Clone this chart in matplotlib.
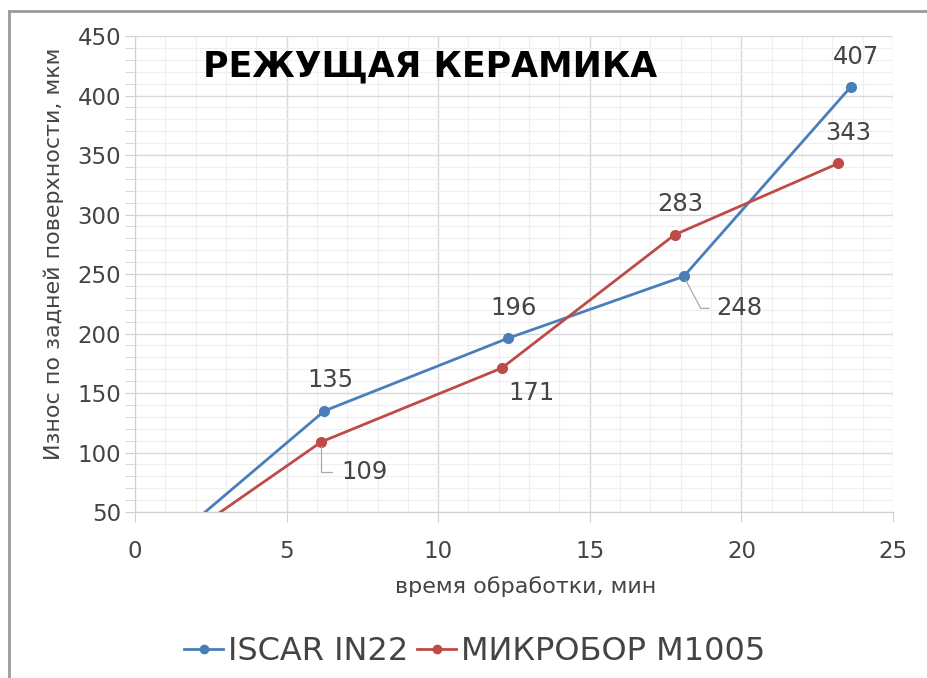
import matplotlib.pyplot as plt
from matplotlib.lines import Line2D
from matplotlib.ticker import MultipleLocator

# данные: время обработки, мин / износ, мкм
iscar_t = [0, 6.25, 12.3, 18.1, 23.6]
iscar_w = [0, 135, 196, 248, 407]
mikro_t = [0, 6.15, 12.1, 17.8, 23.2]
mikro_w = [0, 109, 171, 283, 343]

iscar_name = 'ISCAR IN22'
mikro_name = 'МИКРОБОР M1005'
title = 'РЕЖУЩАЯ КЕРАМИКА'

blue = '#4a7ebb'
red = '#be4b48'
txt = '#444444'

plt.rcParams['font.family'] = ['DejaVu Sans']

fig = plt.figure(figsize=(9.27, 6.78), dpi=100)
ax = fig.add_axes([0.1456, 0.2448, 0.8177, 0.7021])

# рамка вокруг рисунка
fig.add_artist(Line2D([9 / 927, 9 / 927], [0, 1 - 11 / 678], transform=fig.transFigure,
                      color='#9a9a9a', lw=2))
fig.add_artist(Line2D([9 / 927, 1], [1 - 11 / 678, 1 - 11 / 678], transform=fig.transFigure,
                      color='#9a9a9a', lw=2))

ax.plot(iscar_t, iscar_w, color=blue, lw=2, marker='o', ms=7, zorder=3)
ax.plot(mikro_t, mikro_w, color=red, lw=2, marker='o', ms=7, zorder=3)

ax.set_xlim(0, 25)
ax.set_ylim(50, 450)
ax.xaxis.set_major_locator(MultipleLocator(5))
ax.xaxis.set_minor_locator(MultipleLocator(1))
ax.yaxis.set_major_locator(MultipleLocator(50))
ax.yaxis.set_minor_locator(MultipleLocator(10))
ax.grid(which='major', color='#d9d9d9', lw=1)
ax.grid(which='minor', color='#efefef', lw=0.8)
ax.set_axisbelow(True)

for s in ['top', 'right']:
    ax.spines[s].set_visible(False)
for s in ['left', 'bottom']:
    ax.spines[s].set_color('#d0d0d0')

ax.tick_params(axis='both', which='major', labelsize=16.5, colors='#d0d0d0',
               labelcolor=txt, length=7)
ax.tick_params(axis='x', which='minor', length=0)
ax.tick_params(axis='y', which='minor', length=7, colors='#d0d0d0')
ax.tick_params(axis='x', pad=13)
ax.tick_params(axis='y', pad=3)

ax.set_xlabel('время обработки, мин', fontsize=16, color=txt)
ax.set_ylabel('Износ по задней поверхности, мкм', fontsize=16, color=txt)
ax.xaxis.set_label_coords(0.515, -0.134)
ax.yaxis.set_label_coords(-0.094, 0.542)

ax.text(0.09, 0.935, title, transform=ax.transAxes, fontsize=25, fontweight='bold',
        color='black', va='center', ha='left')

# подписи значений
lab = dict(fontsize=17.5, color=txt, ha='center', va='center')
above = (4, 22)
ax.annotate(str(iscar_w[1]), (iscar_t[1], iscar_w[1]), xytext=above, textcoords='offset points', **lab)
ax.annotate(str(iscar_w[2]), (iscar_t[2], iscar_w[2]), xytext=above, textcoords='offset points', **lab)
ax.annotate(str(iscar_w[3]), (iscar_t[3], iscar_w[3]), xytext=(40, -23), textcoords='offset points',
            arrowprops=dict(arrowstyle='-', color='#aaaaaa', lw=0.9,
                            connectionstyle='angle,angleA=0,angleB=-62,rad=0',
                            shrinkA=3, shrinkB=3, relpos=(0, 0.5)), **lab)
ax.annotate(str(iscar_w[4]), (iscar_t[4], iscar_w[4]), xytext=above, textcoords='offset points', **lab)

ax.annotate(str(mikro_w[1]), (mikro_t[1], mikro_w[1]), xytext=(31, -22), textcoords='offset points',
            arrowprops=dict(arrowstyle='-', color='#aaaaaa', lw=0.9,
                            connectionstyle='angle,angleA=0,angleB=90,rad=0',
                            shrinkA=5, shrinkB=3, relpos=(0, 0.5)), **lab)
ax.annotate(str(mikro_w[2]), (mikro_t[2], mikro_w[2]), xytext=(21, -18), textcoords='offset points', **lab)
ax.annotate(str(mikro_w[3]), (mikro_t[3], mikro_w[3]), xytext=above, textcoords='offset points', **lab)
ax.annotate(str(mikro_w[4]), (mikro_t[4], mikro_w[4]), xytext=(7, 22), textcoords='offset points', **lab)

handles = [Line2D([], [], color=blue, lw=2, marker='o', ms=6),
           Line2D([], [], color=red, lw=2, marker='o', ms=6)]
fig.legend(handles, [iscar_name, mikro_name], loc='center', bbox_to_anchor=(0.512, 1 - 652 / 678),
           ncol=2, frameon=False, fontsize=23, labelcolor=txt, handlelength=1.2,
           handletextpad=0.15, columnspacing=0.3)

fig.savefig('out.png', dpi=100)
